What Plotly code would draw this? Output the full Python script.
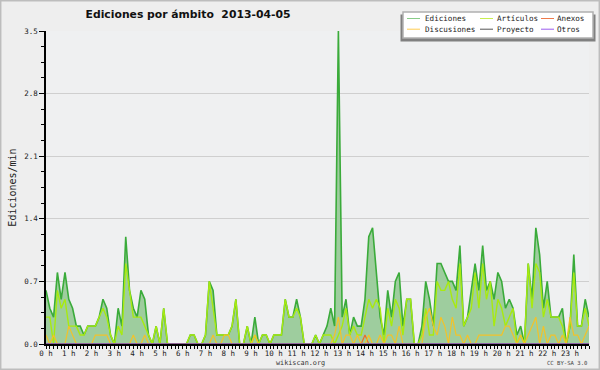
import plotly.graph_objects as go

# ---------------- data (edits per minute, 10-minute steps, 2013-04-05) ----------------
hour_labels = [f"{h} h" for h in range(24)]
y_tick_values = [0.0, 0.7, 1.4, 2.1, 2.8, 3.5]

ediciones = [
    0.6, 0.4, 0.3, 0.8, 0.5, 0.8, 0.5, 0.4, 0.2, 0.2, 0.1, 0.2,
    0.2, 0.2, 0.3, 0.5, 0.4, 0.1, 0.0, 0.4, 0.2, 1.2, 0.6, 0.4,
    0.3, 0.6, 0.5, 0.1, 0.0, 0.2, 0.0, 0.4, 0.0, 0.0, 0.0, 0.0,
    0.0, 0.0, 0.1, 0.1, 0.0, 0.0, 0.1, 0.7, 0.6, 0.1, 0.1, 0.1,
    0.1, 0.2, 0.5, 0.0, 0.0, 0.2, 0.0, 0.3, 0.0, 0.1, 0.1, 0.0,
    0.1, 0.1, 0.1, 0.5, 0.3, 0.3, 0.5, 0.3, 0.0, 0.0, 0.0, 0.1,
    0.0, 0.1, 0.2, 0.4, 0.2, 3.5, 0.3, 0.5, 0.1, 0.3, 0.2, 0.2,
    0.5, 1.2, 1.3, 0.8, 0.3, 0.1, 0.6, 0.3, 0.7, 0.8, 0.2, 0.5,
    0.5, 0.0, 0.0, 0.2, 0.7, 0.5, 0.2, 0.9, 0.9, 0.8, 0.7, 0.7,
    0.6, 1.1, 0.2, 0.3, 0.6, 0.9, 0.6, 1.1, 0.6, 0.7, 0.5, 0.8,
    0.7, 0.4, 0.5, 0.4, 0.1, 0.2, 0.0, 0.9, 0.5, 1.3, 1.0, 0.4,
    0.7, 0.3, 0.3, 0.3, 0.4, 0.0, 0.2, 1.0, 0.2, 0.2, 0.5, 0.3,
]
articulos = [
    0.3, 0.3, 0.0, 0.6, 0.4, 0.5, 0.2, 0.2, 0.2, 0.1, 0.1, 0.2,
    0.2, 0.2, 0.3, 0.4, 0.3, 0.1, 0.0, 0.2, 0.1, 0.9, 0.6, 0.3,
    0.3, 0.3, 0.2, 0.1, 0.0, 0.2, 0.0, 0.4, 0.0, 0.0, 0.0, 0.0,
    0.0, 0.0, 0.1, 0.1, 0.0, 0.0, 0.1, 0.7, 0.4, 0.1, 0.1, 0.1,
    0.1, 0.2, 0.5, 0.0, 0.0, 0.2, 0.0, 0.1, 0.0, 0.1, 0.1, 0.0,
    0.1, 0.1, 0.1, 0.5, 0.3, 0.3, 0.4, 0.3, 0.0, 0.0, 0.0, 0.1,
    0.0, 0.1, 0.1, 0.1, 0.0, 0.1, 0.2, 0.4, 0.1, 0.2, 0.1, 0.1,
    0.3, 0.5, 0.4, 0.5, 0.4, 0.0, 0.4, 0.2, 0.5, 0.4, 0.1, 0.5,
    0.5, 0.0, 0.0, 0.1, 0.4, 0.1, 0.1, 0.7, 0.6, 0.6, 0.7, 0.5,
    0.4, 0.9, 0.2, 0.3, 0.4, 0.8, 0.4, 0.9, 0.5, 0.7, 0.2, 0.5,
    0.4, 0.2, 0.3, 0.4, 0.0, 0.1, 0.0, 0.9, 0.4, 0.9, 0.8, 0.3,
    0.5, 0.3, 0.3, 0.3, 0.2, 0.0, 0.2, 0.8, 0.2, 0.2, 0.4, 0.2,
]
discusiones = [
    0.1, 0.0, 0.1, 0.0, 0.0, 0.0, 0.2, 0.1, 0.0, 0.0, 0.0, 0.0,
    0.0, 0.1, 0.1, 0.1, 0.1, 0.0, 0.0, 0.0, 0.0, 0.0, 0.0, 0.1,
    0.0, 0.0, 0.1, 0.0, 0.0, 0.0, 0.0, 0.0, 0.0, 0.0, 0.0, 0.0,
    0.0, 0.0, 0.0, 0.0, 0.0, 0.0, 0.0, 0.0, 0.1, 0.0, 0.0, 0.1,
    0.1, 0.0, 0.0, 0.0, 0.0, 0.0, 0.0, 0.1, 0.0, 0.0, 0.0, 0.0,
    0.0, 0.0, 0.0, 0.0, 0.0, 0.0, 0.0, 0.0, 0.0, 0.0, 0.0, 0.0,
    0.0, 0.0, 0.0, 0.0, 0.1, 0.3, 0.0, 0.1, 0.1, 0.0, 0.1, 0.0,
    0.0, 0.1, 0.0, 0.0, 0.1, 0.0, 0.1, 0.1, 0.0, 0.2, 0.0, 0.0,
    0.0, 0.0, 0.0, 0.0, 0.3, 0.4, 0.2, 0.1, 0.3, 0.2, 0.0, 0.3,
    0.1, 0.1, 0.0, 0.1, 0.0, 0.0, 0.1, 0.1, 0.1, 0.1, 0.1, 0.1,
    0.1, 0.2, 0.2, 0.1, 0.0, 0.1, 0.0, 0.1, 0.2, 0.3, 0.0, 0.2,
    0.0, 0.1, 0.1, 0.0, 0.1, 0.0, 0.3, 0.1, 0.1, 0.0, 0.1, 0.2,
]
anexos = [0.0] * 84 + [0.1] + [0.0] * 59
proyecto = [0.0] * 144
otros = [0.0] * 144

x_hours = [i / 6 for i in range(144)]

# ---------------- styles ----------------
col = dict(
    fill="#9ecd9e", ediciones="#3aab3a", articulos="#a8ea10",
    discusiones="#f2c22a", anexos="#ee6a2a", proyecto="#555555", otros="#8a4cee",
)
widths = dict(Ediciones=1.6, Artículos=1.4, Anexos=1.2, Discusiones=1.2,
              Proyecto=1.2, Otros=1.2)
legend_colors = dict(
    Ediciones="#88cc88", Artículos="#c8ee50", Anexos="#ee7a4a",
    Discusiones="#ffcc50", Proyecto="#555555", Otros="#9a5cee",
)
MONO = "DejaVu Sans Mono"

L, R, T, B = 46, 589, 31, 344
W, H = R - L, B - T


def px(x):
    return (x - L) / W


def py(y):
    return (B - y) / H


fig = go.Figure()
fig.add_trace(go.Scatter(x=x_hours, y=ediciones, mode="lines", fill="tozeroy",
                         fillcolor=col["fill"], line=dict(width=0, color=col["fill"]),
                         showlegend=False, hoverinfo="skip"))
series = [
    ("Ediciones", ediciones, col["ediciones"]),
    ("Artículos", articulos, col["articulos"]),
    ("Anexos", anexos, col["anexos"]),
    ("Discusiones", discusiones, col["discusiones"]),
    ("Proyecto", proyecto, col["proyecto"]),
    ("Otros", otros, col["otros"]),
]
for name, vals, c in series:
    fig.add_trace(go.Scatter(x=x_hours, y=vals, mode="lines", name=name,
                             line=dict(color=c, width=widths[name]), showlegend=False))

shapes = [
    # outer frame
    dict(type="rect", xref="paper", yref="paper", x0=px(0.7), x1=px(599.3),
         y0=py(369.3), y1=py(0.7), line=dict(color="#bdbdbd", width=1.5), layer="below"),
    # legend shadow and box
    dict(type="rect", xref="paper", yref="paper", x0=px(400.5), x1=px(595.5),
         y0=py(41.5), y1=py(14.5), fillcolor="#808080", line=dict(width=0), layer="above"),
    dict(type="rect", xref="paper", yref="paper", x0=px(403), x1=px(593),
         y0=py(38), y1=py(12), fillcolor="white", line=dict(color="#b0b0b0", width=1.5),
         layer="above"),
]
annotations = []
legend_layout = [["Ediciones", "Artículos", "Anexos"], ["Discusiones", "Proyecto", "Otros"]]
line_x = [407, 480, 541]
text_x = [423, 495, 555]
row_y = [18.5, 29.2]
for r, row in enumerate(legend_layout):
    for c, name in enumerate(row):
        shapes.append(dict(type="line", xref="paper", yref="paper",
                           x0=px(line_x[c]), x1=px(line_x[c] + 13),
                           y0=py(row_y[r]), y1=py(row_y[r]),
                           line=dict(color=legend_colors[name], width=1), layer="above"))
        annotations.append(dict(text=name, xref="paper", yref="paper",
                                x=px(text_x[c]), y=py(row_y[r]), xanchor="left",
                                yanchor="middle", showarrow=False,
                                font=dict(family=MONO, size=7.6, color="#222")))

annotations.append(dict(text="wikiscan.org", xref="paper", yref="paper", x=px(300),
                        y=py(362.5), xanchor="center", yanchor="middle", showarrow=False,
                        font=dict(family=MONO, size=6.8, color="#333")))
annotations.append(dict(text="CC BY-SA 3.0", xref="paper", yref="paper", x=px(589),
                        y=py(362.5), xanchor="right", yanchor="middle", showarrow=False,
                        font=dict(family=MONO, size=5.6, color="#444")))

fig.update_layout(
    width=600, height=370,
    margin=dict(l=L, r=600 - R, t=T, b=370 - B, autoexpand=False),
    paper_bgcolor="#eeeeee", plot_bgcolor="#eff0f1",
    font=dict(family=MONO, size=7.5, color="#222"),
    title=dict(text="<b>Ediciones por ámbito  2013-04-05</b>",
               x=188 / 600, xanchor="center", y=1 - 14.5 / 370, yanchor="middle",
               font=dict(family="DejaVu Sans", size=10.8, color="#111")),
    shapes=shapes, annotations=annotations,
    xaxis=dict(range=[0, 143 / 6], tickvals=list(range(24)), ticktext=hour_labels,
               ticks="outside", ticklen=3, tickcolor="black", tickwidth=1,
               showgrid=False, zeroline=False, showline=True, linecolor="black",
               linewidth=1.5, tickfont=dict(family=MONO, size=7.5),
               ticklabelstandoff=-2,
               minor=dict(dtick=1 / 6, tick0=0, ticks="outside", ticklen=3,
                          tickcolor="black", tickwidth=1),
               automargin=False, fixedrange=True),
    yaxis=dict(range=[0, 3.5], tickvals=y_tick_values, tickformat=".1f",
               ticks="outside", ticklen=5, tickcolor="black", tickwidth=1,
               showgrid=True, gridcolor="#cfcfcf", gridwidth=1, zeroline=False,
               showline=True, linecolor="black", linewidth=1.5,
               tickfont=dict(family=MONO, size=7.5),
               minor=dict(dtick=0.175, tick0=0, ticks="outside", ticklen=3,
                          tickcolor="black", tickwidth=1, showgrid=False),
               title=dict(text="Ediciones/min", font=dict(family=MONO, size=10),
                          standoff=6),
               automargin=False, fixedrange=True),
)

fig.write_html("out.html", config={"displayModeBar": False},
               post_script="document.body.style.margin='0';document.body.style.overflow='hidden';")
